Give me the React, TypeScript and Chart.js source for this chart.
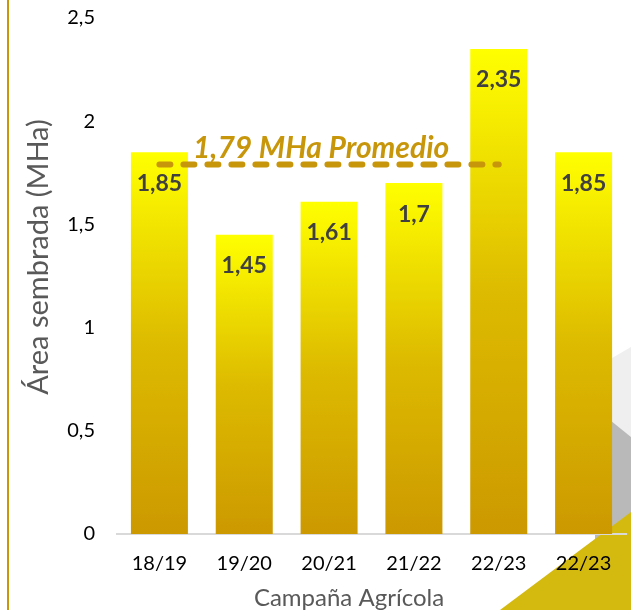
import React, { useEffect, useRef } from "react";
import { Chart, registerables } from "chart.js";

Chart.register(...registerables);

const categories = ["18/19", "19/20", "20/21", "21/22", "22/23", "22/23"];
const areaValues = [1.85, 1.45, 1.61, 1.7, 2.35, 1.85];
const averageValue = 1.79;
const averageText = "1,79 MHa Promedio";
const yMin = 0;
const yMax = 2.5;
const yStep = 0.5;
const xTitle = "Campaña Agrícola";
const yTitle = "Área sembrada (MHa)";

const FONT = "Lato, 'Open Sans', sans-serif";
const GOLD = "#C8960A";

const fmt = (v: number) => String(v).replace(".", ",");

const decorPlugin = {
  id: "decor",
  beforeDraw(chart: any) {
    const ctx = chart.ctx;
    const W = chart.width;
    const H = chart.height;
    ctx.save();
    ctx.fillStyle = "#ffffff";
    ctx.fillRect(0, 0, W, H);
    ctx.fillStyle = "#EFEFEF";
    ctx.beginPath();
    ctx.moveTo(595, 368);
    ctx.lineTo(W, 347);
    ctx.lineTo(W, 437);
    ctx.lineTo(595, 410);
    ctx.closePath();
    ctx.fill();
    ctx.fillStyle = "#B9B9B9";
    ctx.beginPath();
    ctx.moveTo(595, 408);
    ctx.lineTo(W, 437);
    ctx.lineTo(W, H);
    ctx.lineTo(595, H);
    ctx.closePath();
    ctx.fill();
    ctx.fillStyle = "#D4B90E";
    ctx.beginPath();
    ctx.moveTo(500, H);
    ctx.lineTo(W, 512);
    ctx.lineTo(W, H);
    ctx.closePath();
    ctx.fill();
    ctx.fillStyle = GOLD;
    ctx.fillRect(7, 0, 2, H);
    ctx.restore();
  },
  afterDraw(chart: any) {
    const ctx = chart.ctx;
    ctx.save();
    ctx.fillStyle = "#595959";
    // x axis title
    ctx.font = `24px ${FONT}`;
    ctx.textAlign = "center";
    ctx.textBaseline = "alphabetic";
    ctx.fillText(xTitle, 349, 606);
    // y axis title
    ctx.translate(48, 257);
    ctx.rotate(-Math.PI / 2);
    ctx.font = `29px ${FONT}`;
    ctx.fillText(yTitle, 0, 0);
    ctx.restore();
  },
};

const labelsPlugin = {
  id: "barLabels",
  afterDatasetsDraw(chart: any) {
    const ctx = chart.ctx;
    const meta = chart.getDatasetMeta(0);
    const yScale = chart.scales.y;
    ctx.save();
    const avgY = yScale.getPixelForValue(averageValue);
    const x0 = meta.data[0].x;
    const x1 = meta.data[4].x;
    ctx.strokeStyle = GOLD;
    ctx.lineWidth = 6;
    ctx.lineCap = "round";
    ctx.setLineDash([11, 13]);
    ctx.beginPath();
    ctx.moveTo(x0, avgY);
    ctx.lineTo(x1, avgY);
    ctx.stroke();
    ctx.setLineDash([]);
    ctx.fillStyle = GOLD;
    ctx.font = `italic bold 30px ${FONT}`;
    ctx.textAlign = "center";
    ctx.textBaseline = "alphabetic";
    ctx.fillText(averageText, (x0 + x1) / 2 - 8, avgY - 7);
    ctx.fillStyle = "#404040";
    ctx.font = `bold 23px ${FONT}`;
    ctx.textBaseline = "middle";
    meta.data.forEach((bar: any, i: number) => {
      ctx.fillText(fmt(areaValues[i]), bar.x, bar.y + 31);
    });
    ctx.restore();
  },
};

export default function App() {
  const canvasRef = useRef<HTMLCanvasElement>(null);

  useEffect(() => {
    if (!canvasRef.current) return;
    const chart = new Chart(canvasRef.current, {
      type: "bar",
      data: {
        labels: categories,
        datasets: [
          {
            data: areaValues,
            backgroundColor: (c: any) => {
              const ch = c.chart;
              if (!ch.chartArea || c.dataIndex === undefined) return "#FFFF00";
              const ys = ch.scales.y;
              const top = ys.getPixelForValue(areaValues[c.dataIndex]);
              const bottom = ys.getPixelForValue(0);
              const g = ch.ctx.createLinearGradient(0, top, 0, bottom);
              g.addColorStop(0, "#FFFF00");
              g.addColorStop(0.5, "#DDBB00");
              g.addColorStop(1, "#CC9900");
              return g;
            },
            borderWidth: 0,
            categoryPercentage: 1,
            barPercentage: 0.672,
          },
        ],
      },
      options: {
        responsive: false,
        maintainAspectRatio: false,
        animation: false,
        layout: { padding: { left: 0, right: 5, top: 18, bottom: 0 } },
        plugins: {
          legend: { display: false },
          tooltip: { enabled: false },
        },
        scales: {
          x: {
            grid: { display: false, drawTicks: false },
            border: { display: true, color: "#D9D9D9", width: 2 },
            ticks: {
              color: "#000000",
              font: { family: FONT, size: 20 },
              padding: 18,
            },
            afterFit: (s: any) => {
              s.height = 76;
            },
          },
          y: {
            min: yMin,
            max: yMax,
            grid: { display: false, drawTicks: false },
            border: { display: false },
            ticks: {
              stepSize: yStep,
              color: "#000000",
              font: { family: FONT, size: 20 },
              padding: 22,
              callback: (v: any) => fmt(Number(v)),
            },
            afterFit: (s: any) => {
              s.width = 117;
              s.paddingTop = 0;
              s.paddingBottom = 0;
            },
          },
        },
      },
      plugins: [decorPlugin, labelsPlugin],
    });
    return () => chart.destroy();
  }, []);

  return (
    <div style={{ position: "absolute", left: 0, top: 0, width: 631, height: 610 }}>
      <canvas ref={canvasRef} width={631} height={610} />
    </div>
  );
}
